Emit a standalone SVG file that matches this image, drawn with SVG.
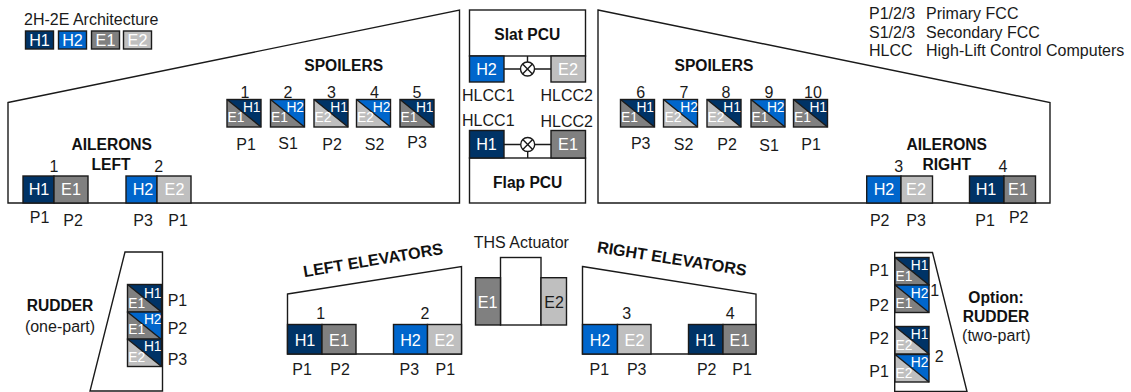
<svg xmlns="http://www.w3.org/2000/svg" width="1131" height="392" viewBox="0 0 1131 392">
<style>
text{font-family:"Liberation Sans",Arial,sans-serif;font-size:16px;fill:#1a1a1a}
.c{text-anchor:middle}
.b{font-weight:bold;font-size:15.6px;fill:#111}
.r{font-size:16.2px}
.w{fill:#fff;text-anchor:middle;font-size:16.2px}
.t{fill:#fff;text-anchor:middle;font-size:13.8px}
.o{fill:#fff;stroke:#1a1a1a;stroke-width:1.4}
.l{fill:none;stroke:#1a1a1a;stroke-width:1.4}
.h1{fill:#003366;stroke:#1a1a1a;stroke-width:1.4}
.h2{fill:#0066cc;stroke:#1a1a1a;stroke-width:1.4}
.e1{fill:#808080;stroke:#1a1a1a;stroke-width:1.4}
.e2{fill:#bfbfbf;stroke:#1a1a1a;stroke-width:1.4}
.f1{fill:#003366}
.f2{fill:#0066cc}
</style>
<defs>
<g id="d"><path class="l" d="M0 0L34 27.5"/><rect class="l" width="34" height="27.5"/></g>
<path id="tri" d="M0 0H34V27.5Z"/>
</defs>

<g id="legend">
<text x="24" y="25">2H-2E Architecture</text>
<rect class="h1" x="25.5" y="31" width="28" height="18"/><text class="w" x="39.5" y="45.5">H1</text>
<rect class="h2" x="58.5" y="31" width="28" height="18"/><text class="w" x="72.5" y="45.5">H2</text>
<rect class="e1" x="91.5" y="31" width="28" height="18"/><text class="w" x="105.5" y="45.5">E1</text>
<rect class="e2" x="123.5" y="31" width="28" height="18"/><text class="w" x="137.5" y="45.5">E2</text>
</g>
<g id="abbreviations">
<text x="869" y="18.5">P1/2/3</text><text x="926" y="18.5">Primary FCC</text>
<text x="869" y="37.5">S1/2/3</text><text x="926" y="37.5">Secondary FCC</text>
<text x="869" y="56">HLCC</text><text x="926" y="56">High-Lift Control Computers</text>
</g>

<g id="left-wing">
<path class="o" d="M8 102.5L459.5 10V203H8Z"/>
<text class="b c" x="343.7" y="70.7">SPOILERS</text>
<text class="b c" x="111.7" y="150">AILERONS</text>
<text class="b c" x="111" y="170">LEFT</text>
<text class="c" x="54" y="172.3">1</text><text class="c" x="158.7" y="172.3">2</text>
<rect class="h1" x="23" y="176" width="31" height="27"/><text class="w" x="39" y="195">H1</text>
<rect class="e1" x="54" y="176" width="34" height="27"/><text class="w" x="71" y="195">E1</text>
<rect class="h2" x="126" y="176" width="31" height="27"/><text class="w" x="143" y="195">H2</text>
<rect class="e2" x="157" y="176" width="34" height="27"/><text class="w" x="174.5" y="195">E2</text>
<text class="c" x="39.5" y="223.3">P1</text><text class="c" x="73" y="226">P2</text><text class="c" x="143" y="226">P3</text><text class="c" x="178" y="226">P1</text>
</g>

<g id="left-spoilers">
<rect x="227" y="99.5" width="34" height="27.5" fill="#808080"/><use href="#tri" x="227" y="99.5" class="f1"/><use href="#d" x="227" y="99.5"/><text class="t" x="251.7" y="112">H1</text><text class="t" x="236" y="121.7">E1</text>
<rect x="270.5" y="99.5" width="34" height="27.5" fill="#808080"/><use href="#tri" x="270.5" y="99.5" class="f2"/><use href="#d" x="270.5" y="99.5"/><text class="t" x="295.2" y="112">H2</text><text class="t" x="279.5" y="121.7">E1</text>
<rect x="314" y="99.5" width="34" height="27.5" fill="#bfbfbf"/><use href="#tri" x="314" y="99.5" class="f1"/><use href="#d" x="314" y="99.5"/><text class="t" x="339" y="112">H1</text><text class="t" x="323" y="121.7">E2</text>
<rect x="356.5" y="99.5" width="34" height="27.5" fill="#bfbfbf"/><use href="#tri" x="356.5" y="99.5" class="f2"/><use href="#d" x="356.5" y="99.5"/><text class="t" x="381.5" y="112">H2</text><text class="t" x="365.5" y="121.7">E2</text>
<rect x="400" y="99.5" width="34" height="27.5" fill="#808080"/><use href="#tri" x="400" y="99.5" class="f1"/><use href="#d" x="400" y="99.5"/><text class="t" x="424.7" y="112">H1</text><text class="t" x="409" y="121.7">E1</text>
<text class="c" x="245" y="98">1</text><text class="c" x="288" y="98">2</text><text class="c" x="331.5" y="98">3</text><text class="c" x="374.5" y="98">4</text><text class="c" x="417" y="98">5</text>
<text class="c" x="246" y="149.5">P1</text><text class="c" x="288" y="149">S1</text><text class="c" x="332" y="149.5">P2</text><text class="c" x="374.5" y="149.5">S2</text><text class="c" x="417" y="147.7">P3</text>
</g>

<g id="slat-pcu">
<rect class="o" x="469.5" y="10" width="116" height="46"/>
<text class="b c" x="527.3" y="40">Slat PCU</text>
<rect class="h2" x="469.5" y="56" width="34.5" height="26"/><text class="w" x="486.5" y="74.7">H2</text>
<rect class="e2" x="551" y="56" width="34.5" height="26"/><text class="w" x="568" y="74.7">E2</text>
<text class="c" x="488.3" y="101">HLCC1</text><text class="c" x="566.7" y="101">HLCC2</text>
</g>
<g id="flap-pcu">
<rect class="o" x="469.5" y="158" width="116" height="45"/>
<text class="b c" x="527.7" y="188.3">Flap PCU</text>
<rect class="h1" x="469.5" y="130.5" width="34.5" height="27.5"/><text class="w" x="486.5" y="150">H1</text>
<rect class="e1" x="551" y="130.5" width="34.5" height="27.5"/><text class="w" x="568" y="150">E1</text>
<text class="c" x="488.3" y="126">HLCC1</text><text class="c" x="566.7" y="126.7">HLCC2</text>
</g>
<g id="connectors">
<path class="l" d="M504 69H520.5M534.5 69H551M527.5 56V62"/>
<circle class="o" cx="527.5" cy="69" r="7"/>
<path class="l" d="M522.6 64.1L532.4 73.9M532.4 64.1L522.6 73.9"/>
<path class="l" d="M504 144.5H520.7M534.7 144.5H551M527.7 151.5V158"/>
<circle class="o" cx="527.7" cy="144.5" r="7"/>
<path class="l" d="M522.8 139.6L532.6 149.4M532.6 139.6L522.8 149.4"/>
</g>

<g id="right-wing">
<path class="o" d="M598 10L1050 102.5V203H598Z"/>
<text class="b c" x="714" y="70.7">SPOILERS</text>
<text class="b c" x="946.7" y="150">AILERONS</text>
<text class="b c" x="946.7" y="170">RIGHT</text>
<text class="c" x="898.7" y="172.3">3</text><text class="c" x="1003" y="172.3">4</text>
<rect class="h2" x="866.7" y="176" width="34.3" height="27"/><text class="w" x="884" y="195">H2</text>
<rect class="e2" x="901" y="176" width="31.5" height="27"/><text class="w" x="916" y="195">E2</text>
<rect class="h1" x="969.5" y="176" width="34.5" height="27"/><text class="w" x="986" y="195">H1</text>
<rect class="e1" x="1004" y="176" width="31.5" height="27"/><text class="w" x="1018" y="195">E1</text>
<text class="c" x="879.7" y="226">P2</text><text class="c" x="916" y="226">P3</text><text class="c" x="985" y="226">P1</text><text class="c" x="1018.7" y="223">P2</text>
</g>

<g id="right-spoilers">
<rect x="620.5" y="99.5" width="34" height="27.5" fill="#808080"/><use href="#tri" x="620.5" y="99.5" class="f1"/><use href="#d" x="620.5" y="99.5"/><text class="t" x="645.2" y="112">H1</text><text class="t" x="629.5" y="121.7">E1</text>
<rect x="663.5" y="99.5" width="34" height="27.5" fill="#bfbfbf"/><use href="#tri" x="663.5" y="99.5" class="f2"/><use href="#d" x="663.5" y="99.5"/><text class="t" x="689" y="112">H2</text><text class="t" x="673" y="121.7">E2</text>
<rect x="707" y="99.5" width="34" height="27.5" fill="#bfbfbf"/><use href="#tri" x="707" y="99.5" class="f1"/><use href="#d" x="707" y="99.5"/><text class="t" x="732" y="112">H1</text><text class="t" x="716" y="121.7">E2</text>
<rect x="751" y="99.5" width="34" height="27.5" fill="#808080"/><use href="#tri" x="751" y="99.5" class="f2"/><use href="#d" x="751" y="99.5"/><text class="t" x="775.7" y="112">H2</text><text class="t" x="760" y="121.7">E1</text>
<rect x="793.5" y="99.5" width="34" height="27.5" fill="#808080"/><use href="#tri" x="793.5" y="99.5" class="f1"/><use href="#d" x="793.5" y="99.5"/><text class="t" x="818.2" y="112">H1</text><text class="t" x="802.5" y="121.7">E1</text>
<text class="c" x="640.7" y="98">6</text><text class="c" x="684" y="98">7</text><text class="c" x="726" y="98">8</text><text class="c" x="769" y="98">9</text><text class="c" x="813" y="98">10</text>
<text class="c" x="640.7" y="149">P3</text><text class="c" x="683.5" y="150">S2</text><text class="c" x="727" y="150">P2</text><text class="c" x="769" y="151">S1</text><text class="c" x="811" y="150">P1</text>
</g>

<g id="rudder-left">
<path class="o" d="M125 252H162.5V391H90Z"/>
<rect x="127.5" y="284.5" width="34" height="27" fill="#808080"/><use href="#tri" x="127.5" y="284.5" class="f1"/><use href="#d" x="127.5" y="284.5"/><text class="t" x="152.7" y="297.7">H1</text><text class="t" x="136.7" y="308">E1</text>
<rect x="127.5" y="312" width="34" height="27" fill="#808080"/><use href="#tri" x="127.5" y="312" class="f2"/><use href="#d" x="127.5" y="312"/><text class="t" x="152.7" y="324.3">H2</text><text class="t" x="136.7" y="334.3">E1</text>
<rect x="127.5" y="339" width="34" height="27" fill="#bfbfbf"/><use href="#tri" x="127.5" y="339" class="f1"/><use href="#d" x="127.5" y="339"/><text class="t" x="152.7" y="351">H1</text><text class="t" x="136.7" y="361.7">E2</text>
<text class="b c" x="60" y="311">RUDDER</text><text class="c" x="60" y="331.7">(one-part)</text>
<text x="167.7" y="305.7">P1</text><text x="167.7" y="334">P2</text><text x="167.7" y="365">P3</text>
</g>

<g id="left-elevators">
<path class="o" d="M287.5 294L461.5 266.5V354H287.5Z"/>
<text class="b c r" transform="translate(374 265.5) rotate(-9.5)" style="font-size:16.2px">LEFT ELEVATORS</text>
<text class="c" x="320.7" y="319.3">1</text><text class="c" x="425" y="319.3">2</text>
<rect class="h1" x="287.5" y="324.5" width="34.5" height="29.5"/><text class="w" x="305" y="345.7">H1</text>
<rect class="e1" x="322" y="324.5" width="34" height="29.5"/><text class="w" x="339" y="345.7">E1</text>
<rect class="h2" x="393.5" y="324.5" width="34" height="29.5"/><text class="w" x="410.5" y="345.7">H2</text>
<rect class="e2" x="427.5" y="324.5" width="34" height="29.5"/><text class="w" x="444.5" y="345.7">E2</text>
<text class="c" x="302" y="375">P1</text><text class="c" x="340" y="375">P2</text><text class="c" x="409.3" y="375">P3</text><text class="c" x="445.3" y="375">P1</text>
</g>

<g id="ths-actuator">
<text class="c" x="521.3" y="247.7">THS Actuator</text>
<rect class="o" x="500.5" y="257.5" width="40.5" height="67.5"/>
<rect class="e1" x="475.5" y="277.7" width="25" height="47.3"/><text class="w" x="487.7" y="307.7">E1</text>
<rect class="e2" x="541" y="277.7" width="25.5" height="47.3"/><text class="c" x="554" y="307.7">E2</text>
</g>

<g id="right-elevators">
<path class="o" d="M582.5 266.5L756 294V354H582.5Z"/>
<text class="b c" transform="translate(671 264) rotate(9)" style="font-size:16.2px">RIGHT ELEVATORS</text>
<text class="c" x="626.7" y="319.3">3</text><text class="c" x="730.3" y="319.3">4</text>
<rect class="h2" x="582.5" y="324.5" width="35" height="29.5"/><text class="w" x="600" y="345.7">H2</text>
<rect class="e2" x="617.5" y="324.5" width="33.5" height="29.5"/><text class="w" x="634.5" y="345.7">E2</text>
<rect class="h1" x="688.5" y="324.5" width="34.5" height="29.5"/><text class="w" x="705.5" y="345.7">H1</text>
<rect class="e1" x="723" y="324.5" width="33" height="29.5"/><text class="w" x="739.5" y="345.7">E1</text>
<text class="c" x="599.3" y="375">P1</text><text class="c" x="636.7" y="375">P3</text><text class="c" x="706.7" y="375">P2</text><text class="c" x="742" y="375">P1</text>
</g>

<g id="rudder-right">
<path class="o" d="M894.7 252.5H932.5L967 391.5H894.7Z"/>
<rect x="895" y="257.5" width="34" height="26.5" fill="#808080"/><use href="#tri" x="895" y="257.5" class="f1"/><use href="#d" x="895" y="257.5"/><text class="t" x="919.5" y="270">H1</text><text class="t" x="904" y="280.7">E1</text>
<rect x="895" y="285" width="34" height="27" fill="#808080"/><use href="#tri" x="895" y="285" class="f2"/><use href="#d" x="895" y="285"/><text class="t" x="919.5" y="297.5">H2</text><text class="t" x="904" y="308">E1</text>
<rect x="895" y="326.5" width="34" height="27.5" fill="#bfbfbf"/><use href="#tri" x="895" y="326.5" class="f1"/><use href="#d" x="895" y="326.5"/><text class="t" x="919.5" y="339">H1</text><text class="t" x="904" y="350">E2</text>
<rect x="895" y="354.5" width="34" height="27.5" fill="#bfbfbf"/><use href="#tri" x="895" y="354.5" class="f2"/><use href="#d" x="895" y="354.5"/><text class="t" x="919.5" y="367">H2</text><text class="t" x="904" y="378">E2</text>
<text x="869.3" y="276">P1</text><text x="869.3" y="310.7">P2</text><text x="869.3" y="344">P2</text><text x="869.3" y="376.7">P1</text>
<text class="c" x="934.7" y="295.7">1</text><text class="c" x="939.3" y="361.7">2</text>
<text class="b c" x="996" y="302.7">Option:</text><text class="b c" x="996" y="321.7">RUDDER</text><text class="c" x="996.3" y="340.7">(two-part)</text>
</g>
</svg>
